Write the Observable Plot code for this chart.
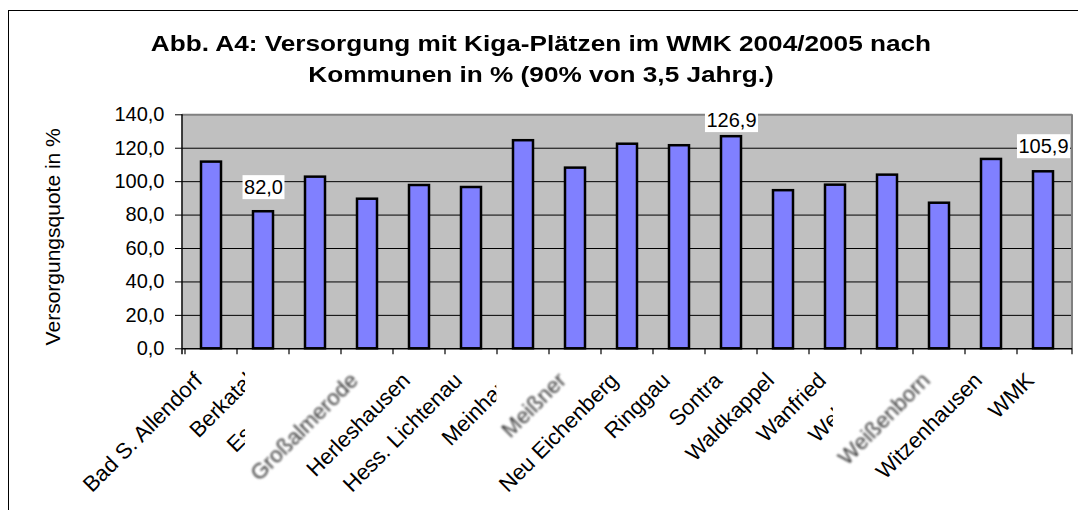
<!DOCTYPE html>
<html><head><meta charset="utf-8">
<script src="https://cdn.jsdelivr.net/npm/d3@7"></script>
<script src="https://cdn.jsdelivr.net/npm/@observablehq/plot@0.6"></script>
<style>
html,body{margin:0;padding:0;background:#fff;}
body{width:1078px;height:510px;overflow:hidden;position:relative;font-family:"Liberation Sans",Arial,sans-serif;}
#title{position:absolute;left:0;top:28px;width:1082px;text-align:center;font-weight:bold;font-size:22px;line-height:31px;transform:scaleX(1.19);transform-origin:541px 0;color:#000;white-space:nowrap;}
#chart{position:absolute;left:0;top:100px;}
#border{position:absolute;left:8px;top:10px;width:2000px;height:2000px;border:1.5px solid #000;pointer-events:none;}
</style></head><body>
<div id="title">Abb. A4: Versorgung mit Kiga-Plätzen im WMK 2004/2005 nach<br>Kommunen in % (90% von 3,5 Jahrg.)</div>
<div id="chart"></div>
<div id="border"></div>
<script>
const categories = ["Bad S. Allendorf", "Berkatal", "Eschwege", "Großalmerode", "Herleshausen", "Hess. Lichtenau", "Meinhard", "Meißner", "Neu Eichenberg", "Ringgau", "Sontra", "Waldkappel", "Wanfried", "Wehretal", "Weißenborn", "Witzenhausen", "WMK"];
const quotas = [111.7, 82.0, 102.7, 89.5, 97.7, 96.5, 124.5, 108.1, 122.4, 121.5, 126.9, 94.6, 97.9, 103.9, 87.1, 113.3, 105.9];
const labeledCategories = ["Berkatal", "Sontra", "WMK"];
const blurredCategories = ["Großalmerode", "Meißner", "Weißenborn"];
const yTicks = [0, 20, 40, 60, 80, 100, 120, 140];
const gridValues = [20, 40, 60, 80, 100, 120];
const yTitle = "Versorgungsquote in %";

const data = categories.map((c, i) => ({category: c, value: quotas[i]}));
const fmt = v => v.toFixed(1).replace(".", ",");

const rightEdge = (index, scales, values, dims) => {
  const x1 = dims.width - dims.marginRight;
  const g = d3.create("svg:g");
  g.append("line").attr("x1", x1).attr("x2", x1).attr("y1", dims.marginTop).attr("y2", dims.height - dims.marginBottom)
    .attr("stroke", "#808080").attr("stroke-width", 2);
  return g.node();
};
const axisLines = (index, scales, values, dims) => {
  const x0 = dims.marginLeft, x1 = dims.width - dims.marginRight;
  const y0 = dims.marginTop, y1 = dims.height - dims.marginBottom;
  const g = d3.create("svg:g").attr("stroke", "#000");
  g.append("line").attr("x1", x0).attr("x2", x0).attr("y1", y0).attr("y2", y1 + 6).attr("stroke-width", 1.5);
  const xs = scales.x.domain().map(d => scales.x(d)).concat([x1]);
  xs.forEach(x => g.append("line").attr("x1", x).attr("x2", x).attr("y1", y1).attr("y2", y1 + 6).attr("stroke-width", 1.2));
  return g.node();
};
const valueLabel = (cat, dy) => Plot.text(data.filter(d => d.category === cat && labeledCategories.includes(cat)), {
  x: "category", y: "value", text: d => fmt(d.value), dy, fontSize: 20, fill: "#000", ariaDescription: "value-labels"
});

const chart = Plot.plot({
  width: 1078, height: 410,
  marginLeft: 182, marginRight: 6, marginTop: 14.3, marginBottom: 161.7,
  x: {domain: categories, padding: 0, axis: null},
  y: {domain: [0, 140], axis: null},
  style: {fontFamily: "Liberation Sans, Arial, sans-serif", background: "transparent", overflow: "visible", color: "#000"},
  marks: [
    Plot.frame({fill: "#c0c0c0", stroke: null}),
    Plot.gridY(gridValues, {stroke: "#000", strokeOpacity: 1, strokeWidth: 1}),
    Plot.ruleY([140], {stroke: "#808080", strokeWidth: 2}),
    rightEdge,
    Plot.barY(data, {x: "category", y: "value", fill: "#8080ff", stroke: "#000", strokeWidth: 2.5, insetLeft: 16, insetRight: 16}),
    Plot.ruleY([0], {stroke: "#000", strokeWidth: 1.5}),
    axisLines,
    Plot.axisY(yTicks, {tickFormat: fmt, tickSize: 7, tickPadding: 11, fontSize: 20, stroke: "#000", label: null}),
    Plot.text([yTitle], {text: d => d, frameAnchor: "left", textAnchor: "middle", lineAnchor: "middle", rotate: -90, dx: -129, dy: 5, fontSize: 21, fill: "#000"}),
    Plot.text(categories, {x: d => d, text: d => d, frameAnchor: "bottom", rotate: -45, textAnchor: "end", lineAnchor: "middle", dx: -13, dy: 28, fontSize: 22, fill: "#000", ariaDescription: "category-labels"}),
    valueLabel("Berkatal", -24),
    valueLabel("Sontra", -16),
    valueLabel("WMK", -25)
  ]
});
document.getElementById("chart").append(chart);

function boxBehind(textEl, padX, padY) {
  const parent = textEl.parentNode;
  const r = textEl.getBoundingClientRect();
  const inv = parent.getScreenCTM().inverse();
  const p0 = new DOMPoint(r.left - padX, r.top - padY).matrixTransform(inv);
  const p1 = new DOMPoint(r.right + padX, r.bottom + padY).matrixTransform(inv);
  const rect = document.createElementNS("http://www.w3.org/2000/svg", "rect");
  rect.setAttribute("x", p0.x); rect.setAttribute("y", p0.y);
  rect.setAttribute("width", p1.x - p0.x); rect.setAttribute("height", p1.y - p0.y);
  rect.setAttribute("fill", "#fff"); rect.setAttribute("stroke", "none");
  parent.insertBefore(rect, textEl);
}
chart.querySelectorAll('g[aria-description="value-labels"] text').forEach(t => boxBehind(t, 1.5, 1));
chart.querySelectorAll('g[aria-description="category-labels"] text').forEach(t => {
  if (blurredCategories.includes(t.textContent)) {
    boxBehind(t, 0, 0);
    t.setAttribute("fill", "#3a3a3a");
    t.style.filter = "blur(0.8px)";
  }
});
</script>
</body></html>
